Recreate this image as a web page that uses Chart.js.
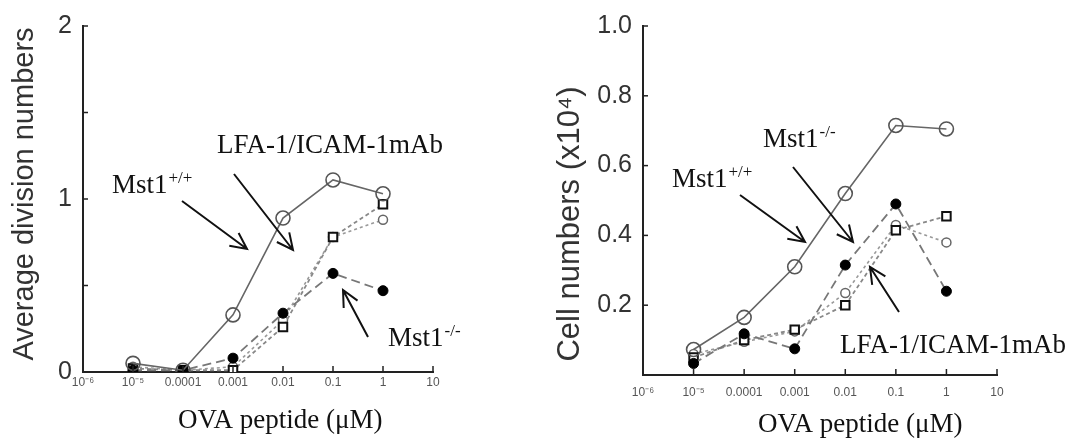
<!DOCTYPE html>
<html><head><meta charset="utf-8">
<script src="https://cdn.jsdelivr.net/npm/chart.js@4/dist/chart.umd.min.js"></script>
<style>
html,body{margin:0;padding:0;background:#fff;}
#wrap{position:relative;width:1085px;height:441px;overflow:hidden;}
canvas{position:absolute;top:0;}
</style></head><body>
<div id="wrap">
<canvas id="c1" width="545" height="441" style="left:0px"></canvas>
<canvas id="c2" width="540" height="441" style="left:545px"></canvas>
</div>
<script>
// ---- data ----
const categories = ['10\u207B\u2076', '10\u207B\u2075', '0.0001', '0.001', '0.01', '0.1', '1', '10'];
// Left panel: average division numbers
const leftWT   = [null, 0.05, 0.01, 0.33, 0.89, 1.11, 1.03, null];
const leftKO   = [null, 0.01, 0.01, 0.08, 0.34, 0.57, 0.47, null];
const leftLFA  = [null, 0.02, 0.01, 0.01, 0.26, 0.78, 0.97, null];
const leftKOm  = [null, 0.03, 0.01, 0.03, 0.30, 0.78, 0.88, null];
const leftYTicks = ['0', '', '1', '', '2'];
// Right panel: cell numbers (x10^4)
const rightWT  = [null, 0.073, 0.165, 0.31, 0.52, 0.715, 0.705, null];
const rightKO  = [null, 0.033, 0.118, 0.075, 0.315, 0.49, 0.24, null];
const rightLFA = [null, 0.05, 0.10, 0.13, 0.20, 0.415, 0.455, null];
const rightKOm = [null, 0.06, 0.095, 0.125, 0.235, 0.43, 0.38, null];
const rightYTicks = ['', '0.2', '0.4', '0.6', '0.8', '1.0'];

const SANS = '"Liberation Sans", Arial, sans-serif';
const SERIF = '"Liberation Serif", "Times New Roman", serif';

function datasets(wt, ko, lfa, kom){
  return [
    {label:'Mst1+/+', data:wt, borderColor:'#666', borderWidth:1.6, pointStyle:'circle', pointRadius:7,
     pointBorderColor:'#555', pointBackgroundColor:'rgba(255,255,255,0)', pointBorderWidth:1.6},
    {label:'Mst1-/-', data:ko, borderColor:'#777', borderWidth:1.8, borderDash:[9,5], pointStyle:'circle', pointRadius:5,
     pointBorderColor:'#000', pointBackgroundColor:'#000', pointBorderWidth:1},
    {label:'LFA-1/ICAM-1mAb', data:lfa, borderColor:'#888', borderWidth:1.8, borderDash:[4,3], pointStyle:'rect', pointRadius:6,
     pointBorderColor:'#111', pointBackgroundColor:'#fff', pointBorderWidth:2},
    {label:'Mst1-/- mAb', data:kom, borderColor:'#999', borderWidth:1.6, borderDash:[3,3], pointStyle:'circle', pointRadius:4.5,
     pointBorderColor:'#666', pointBackgroundColor:'#fff', pointBorderWidth:1.5}
  ];
}

function drawArrow(ctx, x1, y1, x2, y2){
  const a = Math.atan2(y2-y1, x2-x1), L = 18, w = 0.45;
  ctx.beginPath();
  ctx.moveTo(x1,y1); ctx.lineTo(x2,y2);
  ctx.moveTo(x2 - L*Math.cos(a-w), y2 - L*Math.sin(a-w));
  ctx.lineTo(x2,y2);
  ctx.lineTo(x2 - L*Math.cos(a+w), y2 - L*Math.sin(a+w));
  ctx.stroke();
}
function drawSupText(ctx, base, sup, x, y, size){
  ctx.font = size + 'px ' + SERIF;
  ctx.textAlign = 'left'; ctx.textBaseline = 'alphabetic';
  ctx.fillText(base, x, y);
  const w = ctx.measureText(base).width;
  if (sup){
    ctx.font = Math.round(size*0.62) + 'px ' + SERIF;
    ctx.fillText(sup, x + w + 1, y - size*0.38);
  }
}

const decorPlugin = {
  id:'decor',
  afterDraw(chart, args, opts){
    const ctx = chart.ctx, ox = opts.offsetX;
    const xs = chart.scales.x, ys = chart.scales.y;
    ctx.save();
    ctx.strokeStyle = '#222'; ctx.lineWidth = 1.5;
    // inward tick marks
    ys.ticks.forEach((t,i)=>{
      const py = ys.getPixelForTick(i);
      ctx.beginPath(); ctx.moveTo(xs.left, py); ctx.lineTo(xs.left + 5, py); ctx.stroke();
    });
    xs.ticks.forEach((t,i)=>{
      if (i === 0) return;
      const px = xs.getPixelForTick(i);
      ctx.beginPath(); ctx.moveTo(px, ys.bottom); ctx.lineTo(px, ys.bottom - 6); ctx.stroke();
    });
    // y title (rotated)
    ctx.save();
    ctx.fillStyle = '#333';
    ctx.font = opts.yTitle.size + 'px ' + SANS;
    ctx.translate(opts.yTitle.x - ox, opts.yTitle.y);
    ctx.rotate(-Math.PI/2);
    ctx.textAlign = 'center'; ctx.textBaseline = 'middle';
    ctx.fillText(opts.yTitle.text, 0, 0);
    ctx.restore();
    // x title
    ctx.fillStyle = '#111';
    ctx.font = '27px ' + SERIF; ctx.textAlign = 'left'; ctx.textBaseline = 'alphabetic';
    ctx.fillText('OVA peptide (\u03BCM)', opts.xTitle[0] - ox, opts.xTitle[1]);
    // annotations
    opts.labels.forEach(l => drawSupText(ctx, l.text, l.sup, l.x - ox, l.y, 27));
    ctx.strokeStyle = '#111'; ctx.lineWidth = 2;
    opts.arrows.forEach(a => drawArrow(ctx, a[0]-ox, a[1], a[2]-ox, a[3]));
    ctx.restore();
  }
};

function makeChart(id, cfg){
  return new Chart(document.getElementById(id), {
    type:'line',
    data:{labels:categories, datasets:datasets(...cfg.series)},
    plugins:[decorPlugin],
    options:{
      responsive:false, animation:false, devicePixelRatio:1,
      layout:{padding:{left:0, right:cfg.padRight, top:cfg.padTop, bottom:0}},
      plugins:{legend:{display:false}, tooltip:{enabled:false},
        decor:{offsetX:cfg.offsetX, xTitle:cfg.xTitle, yTitle:cfg.yTitle, labels:cfg.labels, arrows:cfg.arrows}},
      scales:{
        x:{type:'category', offset:false,
           grid:{display:true, drawOnChartArea:false, drawTicks:false},
           border:{display:true, color:'#222', width:2},
           ticks:{autoSkip:false, maxRotation:0, minRotation:0, padding:cfg.xTickPad, color:'#555',
                  font:{family:SANS, size:12}},
           afterFit(s){ s.height = cfg.xHeight; }},
        y:{type:'linear', min:0, max:cfg.yMax,
           grid:{display:true, drawOnChartArea:false, drawTicks:false},
           border:{display:true, color:'#222', width:2},
           ticks:{stepSize:cfg.yStep, padding:11, color:'#333', font:{family:SANS, size:25},
                  callback:(v,i)=>cfg.yTicks[i]},
           afterFit(s){ s.width = cfg.yWidth; }}
      }
    }
  });
}

makeChart('c1', {
  series:[leftWT, leftKO, leftLFA, leftKOm], yMax:2, yStep:0.5, yTicks:leftYTicks,
  yTitle:{text:'Average division numbers', size:29, x:25, y:194},
  padRight:112, padTop:20, xHeight:69, yWidth:83, xTickPad:3, offsetX:0,
  xTitle:[178, 428],
  labels:[{text:'Mst1', sup:'+/+', x:112, y:193},
          {text:'LFA-1/ICAM-1mAb', sup:'', x:217, y:153},
          {text:'Mst1', sup:'-/-', x:388, y:346}],
  arrows:[[182,201,247,249],[234,174,293,250],[368,337,343,290]]
});
makeChart('c2', {
  series:[rightWT, rightKO, rightLFA, rightKOm], yMax:1, yStep:0.2, yTicks:rightYTicks,
  yTitle:{text:'Cell numbers (x10\u2074)', size:31, x:570, y:224},
  padRight:88, padTop:21, xHeight:66, yWidth:98, xTickPad:10, offsetX:545,
  xTitle:[758, 432],
  labels:[{text:'Mst1', sup:'+/+', x:672, y:187},
          {text:'Mst1', sup:'-/-', x:763, y:147},
          {text:'LFA-1/ICAM-1mAb', sup:'', x:840, y:353}],
  arrows:[[740,195,805,242],[793,167,853,242],[899,312,870,267]]
});
</script>
</body></html>
